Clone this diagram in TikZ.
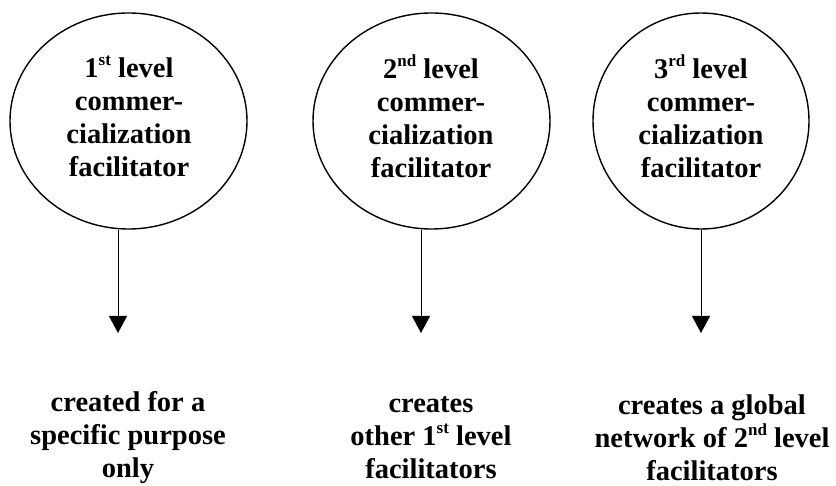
\documentclass[tikz,border=0pt]{standalone}
\usepackage{fontspec}
\setmainfont{Liberation Serif}
\usetikzlibrary{shapes.geometric,arrows.meta}

% small raised ordinal suffix
\newcommand{\ordsuf}[1]{\raisebox{0.42em}{\fontsize{17}{17}\selectfont #1}}

\tikzset{
  level/.style={draw, ellipse, line width=1.4pt, inner sep=0pt},
  tag/.style={align=center, inner sep=0pt,
    font=\fontsize{28.5}{33}\selectfont\bfseries},
  flow/.style={line width=1pt, -{Triangle[width=18pt,length=17pt]}}
}

\begin{document}
\begin{tikzpicture}[x=1pt,y=-1pt]
  \useasboundingbox (0,0) rectangle (836,486);

  % the three facilitator levels
  \node[level, minimum width=237pt, minimum height=216pt] (c1) at (128.5,121) {};
  \node[level, minimum width=237pt, minimum height=216pt] (c2) at (431.5,121) {};
  \node[level, minimum width=216pt, minimum height=216pt] (c3) at (701,121) {};

  \node[tag] (l1) at (129,116)
    {1\ordsuf{st} level\\commer-\\cialization\\facilitator};
  \node[tag] (l2) at (431,116)
    {2\ordsuf{nd} level\\commer-\\cialization\\facilitator};
  \node[tag] (l3) at (701,116)
    {3\ordsuf{rd} level\\commer-\\cialization\\facilitator};

  % arrow tips
  \coordinate (t1) at (118,333);
  \coordinate (t2) at (421,333);
  \coordinate (t3) at (701,333);

  \draw[flow] (c1.south -| t1) -- (t1);
  \draw[flow] (c2.south -| t2) -- (t2);
  \draw[flow] (c3.south -| t3) -- (t3);

  % what each level does
  \node[tag] (o1) at (128,438)
    {created for a\\specific purpose\\only};
  \node[tag] (o2) at (431,438)
    {creates\\other 1\ordsuf{st} level\\facilitators};
  \node[tag] (o3) at (712,438)
    {creates a global\\network of 2\ordsuf{nd} level\\facilitators};
\end{tikzpicture}
\end{document}
